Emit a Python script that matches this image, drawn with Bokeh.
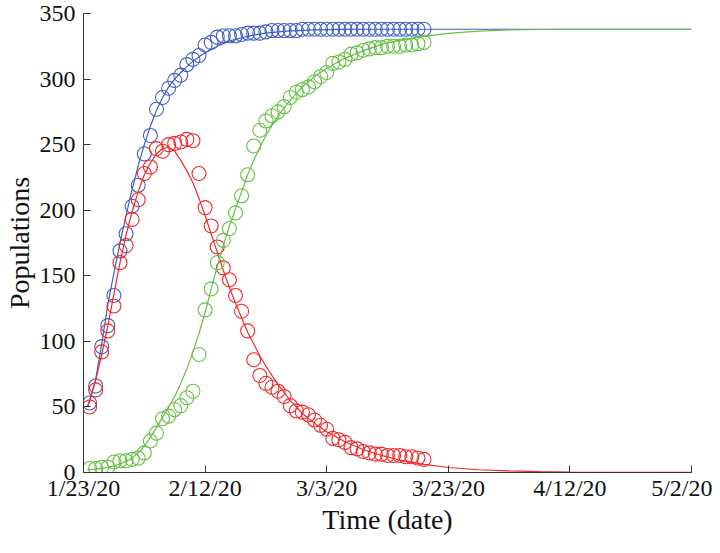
from bokeh.plotting import figure
from bokeh.models import Range1d, FixedTicker
from bokeh.embed import file_html
from bokeh.resources import INLINE

# ---- data (days since 1/23/20) ----
days = list(range(1, 57))
confirmed = [53, 66, 96, 112, 135, 169, 182, 203, 219, 243, 257, 277, 286, 293, 299, 303, 311, 315, 318, 326,
             328, 332, 333, 333, 333, 334, 335, 335, 335, 336, 337, 337, 337, 337, 337, 338, 338, 338, 338, 338,
             338, 338, 338, 338, 338, 338, 338, 338, 338, 338, 338, 338, 338, 338, 338, 338]
infected = [50, 63, 92, 108, 127, 160, 173, 193, 208, 228, 233, 247, 245, 250, 251, 252, 254, 253, 228, 202,
            188, 172, 156, 147, 135, 123, 108, 86, 74, 68, 65, 62, 58, 51, 47, 46, 44, 40, 36, 33,
            26, 25, 23, 19, 18, 16, 15, 14, 14, 13, 13, 13, 12, 12, 11, 10]
removed = [3, 3, 4, 4, 8, 9, 9, 10, 11, 15, 24, 30, 41, 43, 48, 51, 57, 62, 90, 124,
           140, 160, 177, 186, 198, 211, 227, 249, 261, 268, 272, 275, 279, 286, 290, 292, 294, 298, 302, 305,
           312, 313, 315, 319, 320, 322, 323, 324, 324, 325, 325, 325, 326, 326, 327, 328]

fit_days = [0.6, 1, 2, 3, 4, 5, 6, 7, 8, 9, 10, 11, 12, 13, 14, 15, 16, 17, 18, 19, 20, 21, 22, 23, 24, 25,
            26, 27, 28, 29, 30, 32, 34, 36, 38, 40, 43, 46, 49, 52, 56, 60, 65, 70, 75, 80, 90, 100]
fit_confirmed = [50, 55, 71, 98, 128, 152, 175, 196, 216, 234, 250, 264, 276, 286, 294, 300, 305, 309.5, 313.5,
                 317, 320, 322.5, 325, 327, 329, 330.3, 331.5, 332.5, 333.5, 334.3, 335, 336, 336.7, 337.2,
                 337.5, 337.7, 337.9, 338, 338, 338, 338, 338, 338, 338, 338, 338, 338, 338]
fit_infected = [50, 54, 70, 90, 112, 136, 160, 181, 199, 214, 227, 236, 243, 247, 248, 245, 238, 230, 221, 209,
                196, 182, 168, 154, 141, 129, 118, 107, 98, 89, 81, 67, 55, 45, 37.5, 31, 23.5, 17.5, 13, 9.5,
                6.2, 3.8, 2.1, 1.2, 0.7, 0.4, 0.1, 0.05]
fit_removed = [2, 2.2, 2.6, 3.2, 4, 5, 6.5, 8.5, 11, 15, 20, 27, 34, 42, 50, 58, 68, 79, 92, 106, 122, 140,
               157, 173, 188, 201, 214, 227, 238, 248, 257, 272, 284, 294, 302, 308, 316, 321.5, 326.5, 329.5,
               332.5, 334.8, 336.5, 337.4, 337.8, 338, 338, 338]

tick_days = [0, 20, 40, 60, 80, 100]
tick_labels = ["1/23/20", "2/12/20", "3/3/20", "3/23/20", "4/12/20", "5/2/20"]
y_ticks = [0, 50, 100, 150, 200, 250, 300, 350]

BLUE = "#3F5FBF"
RED = "#F02828"
GREEN = "#66BF44"
FONT = "Liberation Serif"

p = figure(width=712, height=537, output_backend="svg", toolbar_location=None,
           x_range=Range1d(0, 100), y_range=Range1d(0, 350),
           min_border_left=72, min_border_right=21, min_border_top=13, min_border_bottom=40)
p.outline_line_color = None
p.xgrid.visible = False
p.ygrid.visible = False
p.background_fill_color = "white"
p.border_fill_color = "white"

for ys, fy, col in [(confirmed, fit_confirmed, BLUE), (infected, fit_infected, RED), (removed, fit_removed, GREEN)]:
    p.line(fit_days, fy, line_color=col, line_width=1.2)
    p.scatter(days, ys, size=14, marker="circle", fill_color=None, line_color=col, line_width=1.1)

for ax in (p.xaxis[0], p.yaxis[0]):
    ax.axis_line_color = "#333333"
    ax.major_tick_line_color = "#333333"
    ax.major_tick_in = 7
    ax.major_tick_out = 0
    ax.minor_tick_line_color = None
    ax.major_label_text_font = FONT
    ax.major_label_text_font_size = "24px"
    ax.major_label_text_color = "#111111"
    ax.axis_label_text_font = FONT
    ax.axis_label_text_font_size = "28px"
    ax.axis_label_text_font_style = "normal"
    ax.axis_label_text_color = "#111111"

p.xaxis.ticker = FixedTicker(ticks=tick_days)
p.xaxis.major_label_overrides = {d: l for d, l in zip(tick_days, tick_labels)}
p.xaxis.axis_label = "Time (date)"
p.xaxis.major_label_standoff = 2
p.xaxis.axis_label_standoff = 0
p.yaxis.ticker = FixedTicker(ticks=y_ticks)
p.yaxis.axis_label = "Populations"
p.yaxis.major_label_standoff = 8
p.yaxis.axis_label_standoff = 2

open("out.html", "w").write(file_html(p, INLINE))
